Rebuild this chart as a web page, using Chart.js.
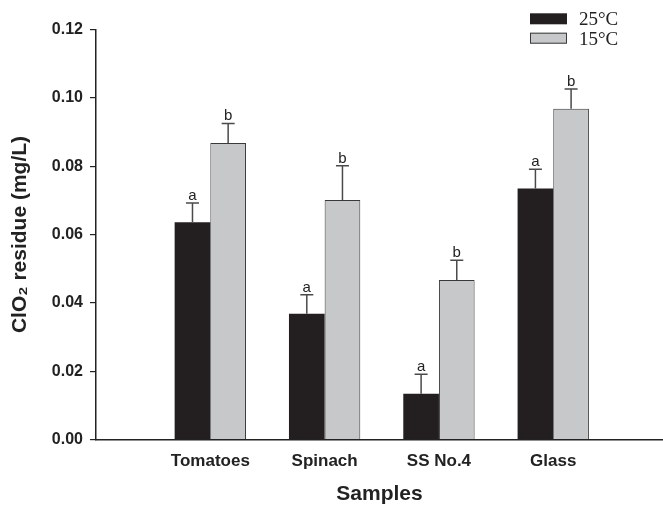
<!DOCTYPE html>
<html>
<head>
<meta charset="utf-8">
<script src="https://cdn.jsdelivr.net/npm/chart.js@4.4.1/dist/chart.umd.min.js"></script>
<style>
  body { margin: 0; background: #fff; }
  #wrap { width: 663px; height: 505px; }
</style>
</head>
<body>
<div id="wrap"><canvas id="cv" width="663" height="505"></canvas></div>
<script>
// chart values
const samples = ['Tomatoes', 'Spinach', 'SS No.4', 'Glass'];
const samplePos = [1, 2, 3, 4];
const res25 = [0.0636, 0.0368, 0.0134, 0.0735];
const err25 = [0.0056, 0.0056, 0.0057, 0.0056];
const res15 = [0.0868, 0.0701, 0.0467, 0.0968];
const err15 = [0.0057, 0.0100, 0.0058, 0.0058];
const letters25 = ['a', 'a', 'a', 'a'];
const letters15 = ['b', 'b', 'b', 'b'];
const yTicks = [0, 0.02, 0.04, 0.06, 0.08, 0.10, 0.12];

const sans = "'Liberation Sans', Arial, sans-serif";
const serif = "'Liberation Serif', 'Times New Roman', serif";

// error bars + significance letters, on top of the bars
const errBarPlugin = {
    id: 'errBars',
    afterDatasetsDraw(chart) {
        const ctx = chart.ctx;
        const ys = chart.scales.y;
        chart.data.datasets.forEach((ds, di) => {
            const meta = chart.getDatasetMeta(di);
            meta.data.forEach((bar, i) => {
                const top = ys.getPixelForValue(ds.data[i].y + ds.errors[i]);
                ctx.save();
                ctx.strokeStyle = '#4a4a4a';
                ctx.lineWidth = 1.5;
                ctx.beginPath();
                ctx.moveTo(bar.x, bar.y);
                ctx.lineTo(bar.x, top);
                ctx.moveTo(bar.x - 6.5, top);
                ctx.lineTo(bar.x + 6.5, top);
                ctx.stroke();
                ctx.fillStyle = '#222';
                ctx.font = '15px ' + sans;
                ctx.textAlign = 'center';
                ctx.textBaseline = 'alphabetic';
                ctx.fillText(ds.letters[i], bar.x, top - 3);
                ctx.restore();
            });
        });
    }
};

// stacked legend in the top-right corner
const stackLegend = {
    id: 'stackLegend',
    afterDraw(chart, args, opts) {
        const ctx = chart.ctx;
        chart.data.datasets.forEach((ds, i) => {
            const y = opts.top + i * opts.gap;
            ctx.save();
            ctx.fillStyle = ds.backgroundColor;
            ctx.fillRect(opts.left, y, opts.boxW, opts.boxH);
            if (ds.borderWidth) {
                ctx.strokeStyle = ds.borderColor;
                ctx.lineWidth = 1;
                ctx.strokeRect(opts.left + 0.5, y + 0.5, opts.boxW - 1, opts.boxH - 1);
            }
            ctx.fillStyle = '#222';
            ctx.font = '19px ' + serif;
            ctx.textBaseline = 'middle';
            ctx.fillText(ds.label, opts.left + opts.boxW + 12, y + opts.boxH / 2 + 1.5);
            ctx.restore();
        });
    }
};

new Chart(document.getElementById('cv'), {
    type: 'bar',
    data: {
        datasets: [
            {
                label: '25°C',
                data: samplePos.map((x, i) => ({ x: x, y: res25[i] })),
                errors: err25,
                letters: letters25,
                backgroundColor: '#231f20',
                borderWidth: 0
            },
            {
                label: '15°C',
                data: samplePos.map((x, i) => ({ x: x, y: res15[i] })),
                errors: err15,
                letters: letters15,
                backgroundColor: '#c7c8ca',
                borderColor: '#3a3a3a',
                borderWidth: 1
            }
        ]
    },
    options: {
        responsive: false,
        animation: false,
        layout: { padding: { left: 0, right: 0, top: 29.5, bottom: 0 } },
        datasets: { bar: { barPercentage: 1, categoryPercentage: 0.65 } },
        plugins: {
            legend: { display: false },
            tooltip: { enabled: false },
            stackLegend: { left: 530, top: 13.3, gap: 19.4, boxW: 37, boxH: 11 }
        },
        scales: {
            x: {
                type: 'linear',
                offset: false,
                min: 0,
                max: 4.96,
                afterFit: s => { s.height = 65.5; s.paddingLeft = 0; s.paddingRight = 0; },
                grid: { display: false },
                border: { display: true, color: '#222', width: 1.5 },
                ticks: {
                    stepSize: 1,
                    maxRotation: 0,
                    autoSkip: false,
                    padding: 4,
                    color: '#222',
                    font: { family: sans, size: 17, weight: 'bold' },
                    callback: v => samples[samplePos.indexOf(v)] || ''
                },
                title: {
                    display: true,
                    text: 'Samples',
                    color: '#222',
                    padding: { top: 0, bottom: 0 },
                    font: { family: sans, size: 21, weight: 'bold', lineHeight: 1 }
                }
            },
            y: {
                min: 0,
                max: 0.12,
                afterFit: s => { s.width = 96; },
                afterBuildTicks: s => { s.ticks = yTicks.map(v => ({ value: v })); },
                grid: { drawOnChartArea: false, drawTicks: true, tickLength: 6, color: '#222', lineWidth: 1.2 },
                border: { display: true, color: '#222', width: 1.5 },
                ticks: {
                    padding: 7,
                    color: '#222',
                    font: { family: sans, size: 16, weight: 'bold' },
                    callback: v => v.toFixed(2)
                },
                title: {
                    display: true,
                    text: 'ClO₂ residue (mg/L)',
                    color: '#222',
                    padding: { top: 7.4, bottom: 0 },
                    font: { family: sans, size: 21, weight: 'bold' }
                }
            }
        }
    },
    plugins: [errBarPlugin, stackLegend]
});
</script>
</body>
</html>
